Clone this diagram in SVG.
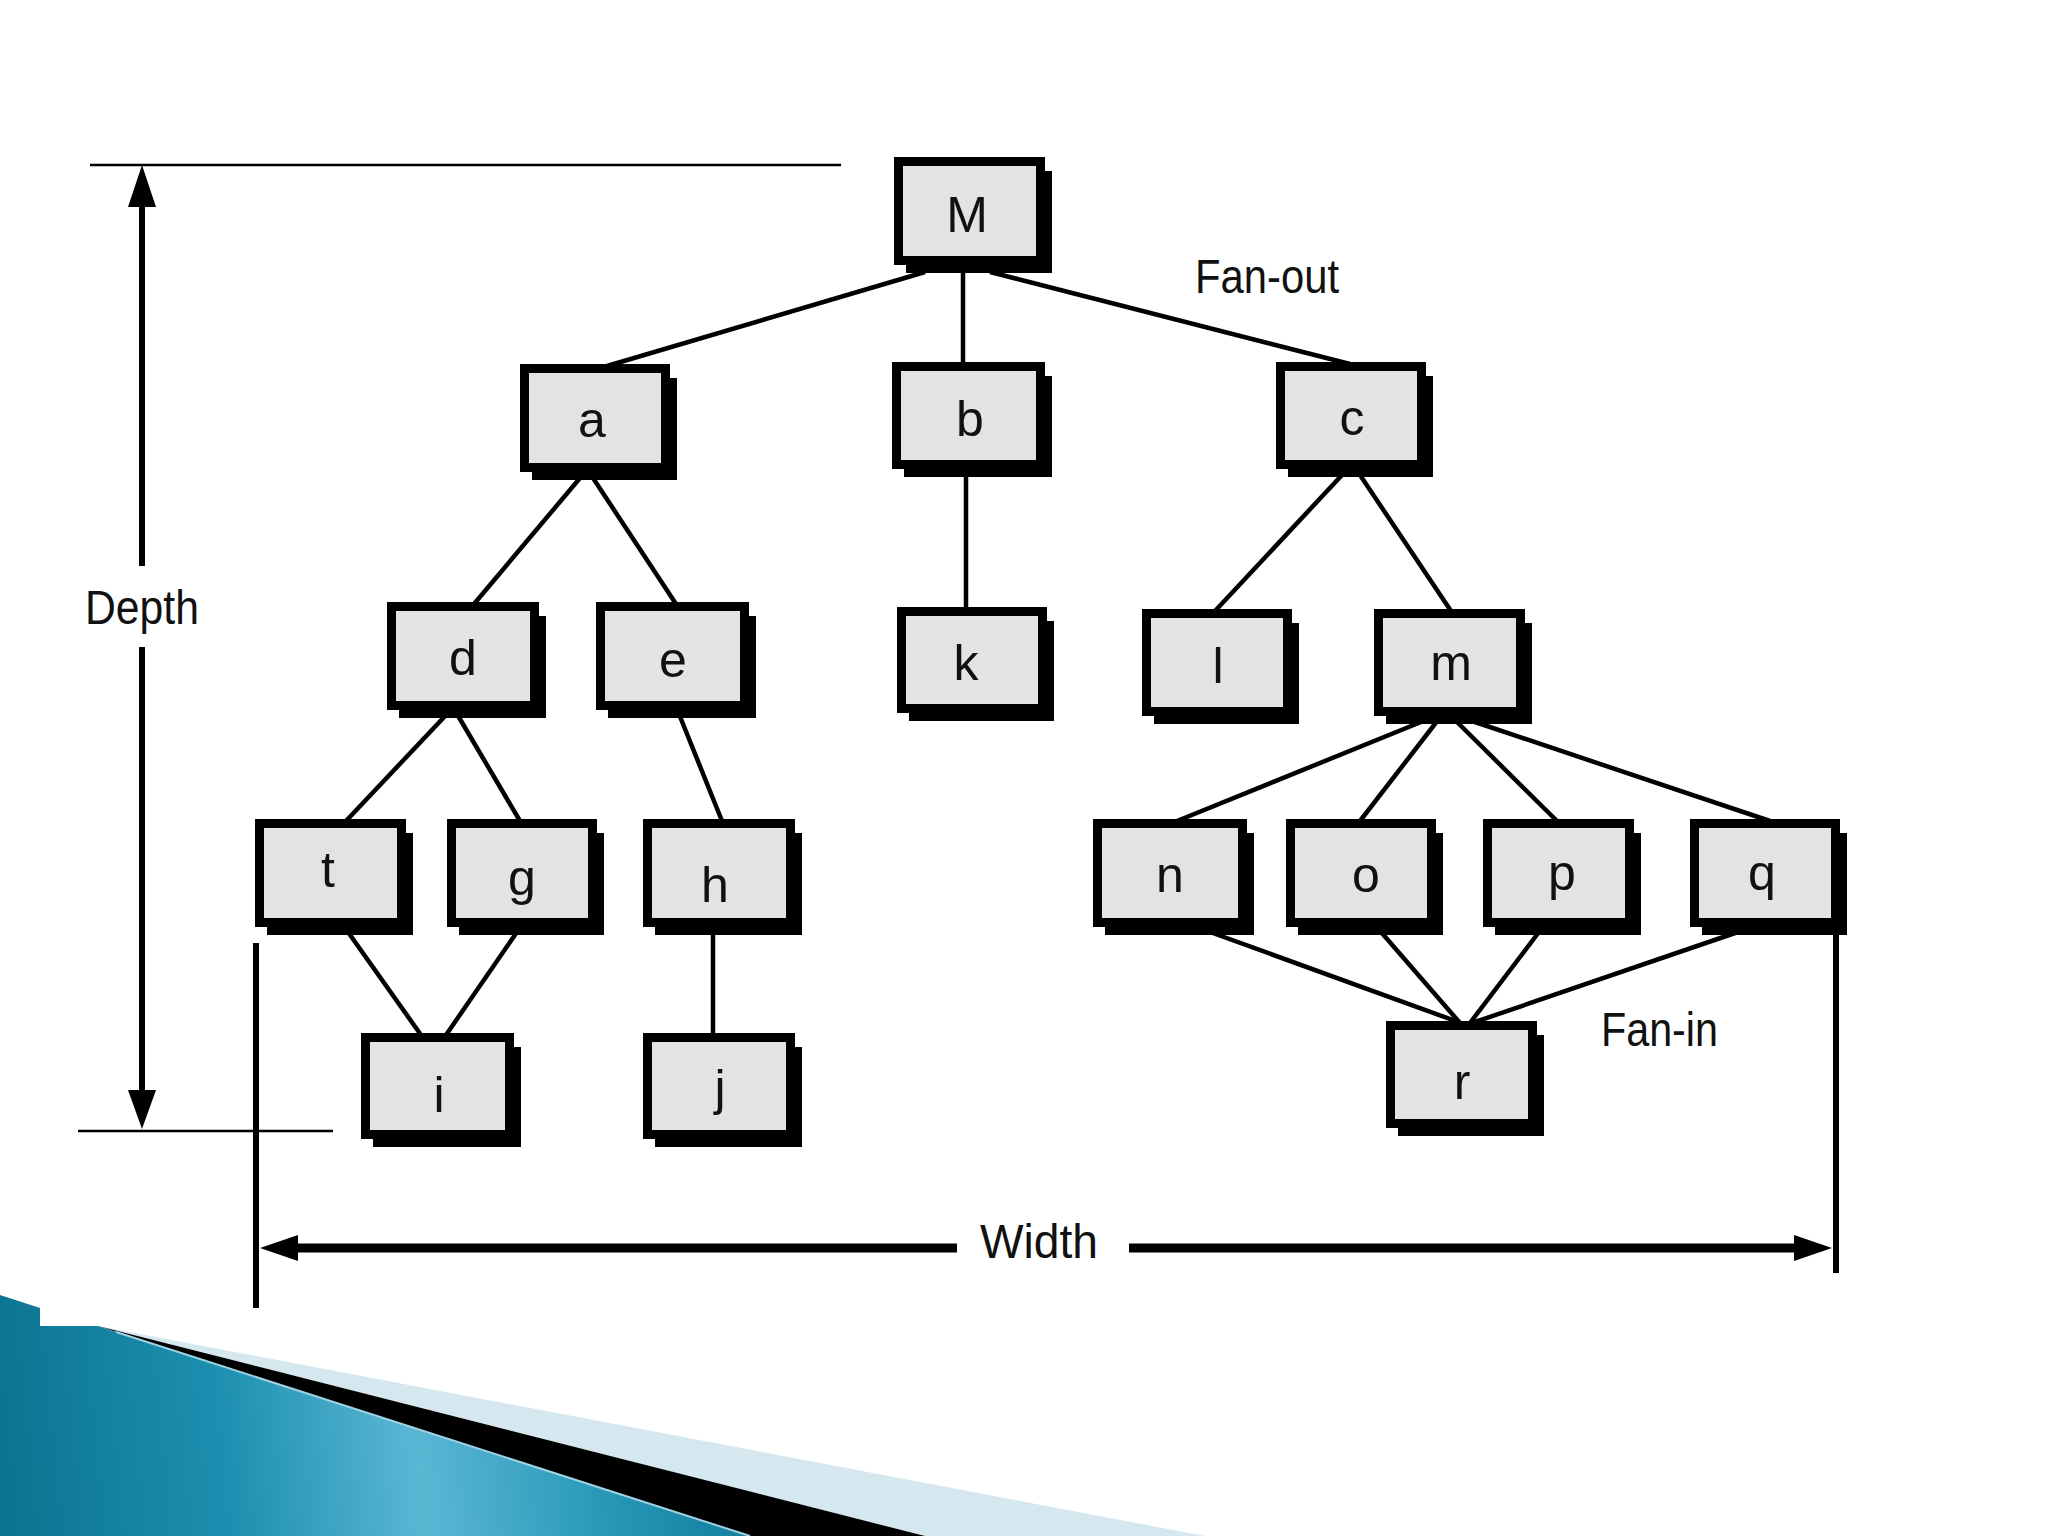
<svg xmlns="http://www.w3.org/2000/svg" width="2048" height="1536" viewBox="0 0 2048 1536">
<defs>
<style>
.sh{fill:#000}
.bx{fill:#e3e3e3;stroke:#000;stroke-width:9}
.lb{font-family:"Liberation Sans",Arial,sans-serif;font-size:50px;fill:#111;text-anchor:middle}
.tx{font-family:"Liberation Sans",Arial,sans-serif;font-size:48px;fill:#111}
.cn{stroke:#000;stroke-width:4.5;fill:none;stroke-linecap:butt}
.thin{stroke:#000;stroke-width:2.5;fill:none}
.dim{stroke:#000;stroke-width:6;fill:none}
.wid{stroke:#000;stroke-width:9;fill:none}
.ah{fill:#000}
</style>
<linearGradient id="teal" gradientUnits="userSpaceOnUse" x1="0" y1="1500" x2="760" y2="1420">
<stop offset="0" stop-color="#0b7390"/>
<stop offset="0.3" stop-color="#1d8fb0"/>
<stop offset="0.55" stop-color="#5ab7d4"/>
<stop offset="0.8" stop-color="#2596b6"/>
<stop offset="1" stop-color="#0e7c99"/>
</linearGradient>
</defs>
<rect width="2048" height="1536" fill="#fff"/>

<g id="decoration">
<polygon points="98,1326 1205,1536 925,1536" fill="#d6e8ef"/>
<polygon points="98,1326 925,1536 750,1536" fill="#000"/>
<polygon points="0,1295 40,1308 40,1326 98,1326 116,1332 750,1536 0,1536" fill="url(#teal)"/>
<line x1="116" y1="1332" x2="750" y2="1536" stroke="#9fd3e4" stroke-width="2"/>
</g>

<g id="dimensions">
<line class="thin" x1="90" y1="165" x2="841" y2="165"/>
<line class="thin" x1="78" y1="1131" x2="333" y2="1131"/>
<line class="dim" x1="142" y1="200" x2="142" y2="566"/>
<line class="dim" x1="142" y1="647" x2="142" y2="1095"/>
<polygon class="ah" points="142,165 128,207 156,207"/>
<polygon class="ah" points="142,1129 128,1090 156,1090"/>
<text class="tx" x="85" y="624" textLength="114" lengthAdjust="spacingAndGlyphs">Depth</text>
<line class="dim" x1="256" y1="943" x2="256" y2="1308"/>
<line class="dim" x1="1836" y1="930" x2="1836" y2="1273"/>
<line class="wid" x1="292" y1="1248" x2="957" y2="1248"/>
<line class="wid" x1="1129" y1="1248" x2="1800" y2="1248"/>
<polygon class="ah" points="260,1248 298,1235 298,1261"/>
<polygon class="ah" points="1832,1248 1794,1235 1794,1261"/>
<text class="tx" x="980" y="1258" textLength="118" lengthAdjust="spacingAndGlyphs">Width</text>
<text class="tx" x="1195" y="293" textLength="144" lengthAdjust="spacingAndGlyphs">Fan-out</text>
<text class="tx" x="1601" y="1046" textLength="117" lengthAdjust="spacingAndGlyphs">Fan-in</text>
</g>

<g id="connectors">
<line class="cn" x1="925" y1="272" x2="607" y2="366"/>
<line class="cn" x1="963" y1="270" x2="963" y2="364"/>
<line class="cn" x1="990" y1="272" x2="1350" y2="364"/>
<line class="cn" x1="580" y1="478" x2="474" y2="604"/>
<line class="cn" x1="593" y1="478" x2="676" y2="604"/>
<line class="cn" x1="966" y1="474" x2="966" y2="609"/>
<line class="cn" x1="1342" y1="475" x2="1215" y2="611"/>
<line class="cn" x1="1360" y1="475" x2="1451" y2="611"/>
<line class="cn" x1="447" y1="714" x2="346" y2="821"/>
<line class="cn" x1="457" y1="714" x2="520" y2="821"/>
<line class="cn" x1="679" y1="714" x2="722" y2="821"/>
<line class="cn" x1="1426" y1="720" x2="1177" y2="821"/>
<line class="cn" x1="1438" y1="720" x2="1360" y2="821"/>
<line class="cn" x1="1455" y1="720" x2="1557" y2="821"/>
<line class="cn" x1="1469" y1="720" x2="1770" y2="821"/>
<line class="cn" x1="348" y1="932" x2="421" y2="1035"/>
<line class="cn" x1="517" y1="932" x2="446" y2="1035"/>
<line class="cn" x1="713" y1="932" x2="713" y2="1035"/>
<line class="cn" x1="1210" y1="932" x2="1461" y2="1023"/>
<line class="cn" x1="1381" y1="932" x2="1460" y2="1023"/>
<line class="cn" x1="1539" y1="932" x2="1470" y2="1023"/>
<line class="cn" x1="1738" y1="932" x2="1472" y2="1023"/>
</g>

<g id="node-M"><rect class="sh" x="906" y="171" width="146" height="102"/><rect class="bx" x="898.5" y="161.5" width="142" height="99"/><text class="lb" x="967" y="232">M</text></g>
<g id="node-a"><rect class="sh" x="532" y="378" width="145" height="102"/><rect class="bx" x="524.5" y="368.5" width="141" height="99"/><text class="lb" x="592" y="437">a</text></g>
<g id="node-b"><rect class="sh" x="904" y="376" width="148" height="101"/><rect class="bx" x="896.5" y="366.5" width="144" height="98"/><text class="lb" x="970" y="436">b</text></g>
<g id="node-c"><rect class="sh" x="1288" y="376" width="145" height="101"/><rect class="bx" x="1280.5" y="366.5" width="141" height="98"/><text class="lb" x="1352" y="435">c</text></g>
<g id="node-d"><rect class="sh" x="399" y="616" width="147" height="102"/><rect class="bx" x="391.5" y="606.5" width="143" height="99"/><text class="lb" x="463" y="675">d</text></g>
<g id="node-e"><rect class="sh" x="608" y="616" width="148" height="102"/><rect class="bx" x="600.5" y="606.5" width="144" height="99"/><text class="lb" x="673" y="677">e</text></g>
<g id="node-k"><rect class="sh" x="909" y="621" width="145" height="100"/><rect class="bx" x="901.5" y="611.5" width="141" height="97"/><text class="lb" x="966" y="680">k</text></g>
<g id="node-l"><rect class="sh" x="1154" y="623" width="145" height="101"/><rect class="bx" x="1146.5" y="613.5" width="141" height="98"/><text class="lb" x="1218" y="683">l</text></g>
<g id="node-m"><rect class="sh" x="1386" y="623" width="146" height="101"/><rect class="bx" x="1378.5" y="613.5" width="142" height="98"/><text class="lb" x="1451" y="680">m</text></g>
<g id="node-t"><rect class="sh" x="267" y="833" width="146" height="102"/><rect class="bx" x="259.5" y="823.5" width="142" height="99"/><text class="lb" x="328" y="887">t</text></g>
<g id="node-g"><rect class="sh" x="459" y="833" width="145" height="102"/><rect class="bx" x="451.5" y="823.5" width="141" height="99"/><text class="lb" x="522" y="895">g</text></g>
<g id="node-h"><rect class="sh" x="655" y="833" width="147" height="102"/><rect class="bx" x="647.5" y="823.5" width="143" height="99"/><text class="lb" x="715" y="902">h</text></g>
<g id="node-n"><rect class="sh" x="1105" y="833" width="149" height="102"/><rect class="bx" x="1097.5" y="823.5" width="145" height="99"/><text class="lb" x="1170" y="892">n</text></g>
<g id="node-o"><rect class="sh" x="1298" y="833" width="145" height="102"/><rect class="bx" x="1290.5" y="823.5" width="141" height="99"/><text class="lb" x="1366" y="892">o</text></g>
<g id="node-p"><rect class="sh" x="1495" y="833" width="146" height="102"/><rect class="bx" x="1487.5" y="823.5" width="142" height="99"/><text class="lb" x="1562" y="890">p</text></g>
<g id="node-q"><rect class="sh" x="1702" y="833" width="145" height="102"/><rect class="bx" x="1694.5" y="823.5" width="141" height="99"/><text class="lb" x="1762" y="890">q</text></g>
<g id="node-i"><rect class="sh" x="373" y="1047" width="148" height="100"/><rect class="bx" x="365.5" y="1037.5" width="144" height="97"/><text class="lb" x="439" y="1112">i</text></g>
<g id="node-j"><rect class="sh" x="655" y="1047" width="147" height="100"/><rect class="bx" x="647.5" y="1037.5" width="143" height="97"/><text class="lb" x="720" y="1105">j</text></g>
<g id="node-r"><rect class="sh" x="1398" y="1035" width="146" height="101"/><rect class="bx" x="1390.5" y="1025.5" width="142" height="98"/><text class="lb" x="1462" y="1099">r</text></g>
</svg>
